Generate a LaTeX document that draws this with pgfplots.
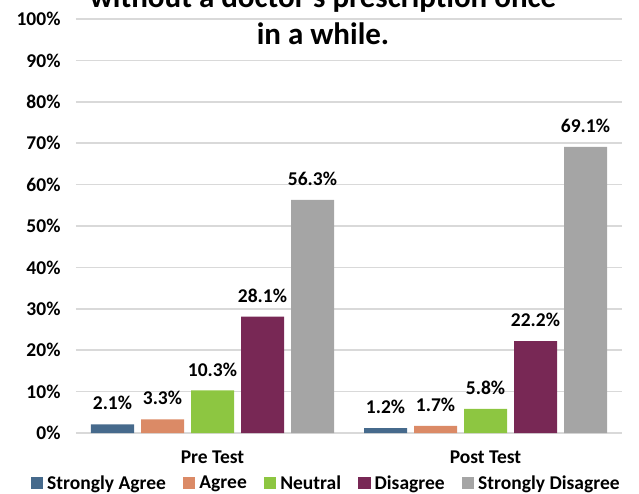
\documentclass[border=0pt]{standalone}
\usepackage{fontspec}
\setmainfont{Carlito}
\usepackage{pgfplots}
\pgfplotsset{compat=1.18}

\definecolor{cSA}{HTML}{466A8C}
\definecolor{cA}{HTML}{DB8A66}
\definecolor{cN}{HTML}{8DC641}
\definecolor{cD}{HTML}{782855}
\definecolor{cSD}{HTML}{A5A5A5}
\definecolor{gridgray}{HTML}{D9D9D9}

\newcommand{\lblfont}{\bfseries\fontsize{19.5}{23}\selectfont}

\begin{document}
\begin{tikzpicture}
\clip (-76pt,-60pt) rectangle (563pt,433pt);
\begin{axis}[
  name=ax, at={(0pt,0pt)}, anchor=south west,
  scale only axis, width=546pt, height=414pt,
  ybar=7pt, bar width=43pt,
  xmin=-0.5, xmax=1.5, ymin=0, ymax=100,
  xtick={0,1}, xticklabels={Pre Test, Post Test},
  ytick={0,10,...,100},
  yticklabel={\pgfmathprintnumber{\tick}\%},
  ymajorgrids, grid style={draw=gridgray, line width=1.5pt},
  axis line style={draw=none},
  major tick length=0pt,
  /pgf/number format/assume math mode=true,
  tick label style={font=\lblfont},
  yticklabel style={xshift=-12pt},
  xticklabel style={yshift=-14pt},
  nodes near coords={\pgfmathprintnumber[fixed,precision=1,fixed zerofill]{\pgfplotspointmeta}\%},
  every node near coord/.append style={font=\lblfont, text=black, anchor=center, yshift=21pt},
  legend columns=-1,
  legend image code/.code={\fill[#1] (0pt,-6.25pt) rectangle (12.5pt,6.25pt);},
  legend style={at={(0.46,-0.1208)}, anchor=center, draw=none, fill=none,
    font=\lblfont, nodes={inner xsep=4pt},
    /tikz/every even column/.append style={column sep=13pt}},
]
\addplot[fill=cSA, draw=none] coordinates {(0,2.1) (1,1.2)};
\addplot[fill=cA, draw=none] coordinates {(0,3.3) (1,1.7)};
\addplot[fill=cN, draw=none] coordinates {(0,10.3) (1,5.8)};
\addplot[fill=cD, draw=none] coordinates {(0,28.1) (1,22.2)};
\addplot[fill=cSD, draw=none] coordinates {(0,56.3) (1,69.1)};
\legend{Strongly Agree, Agree, Neutral, Disagree, Strongly Disagree}
\end{axis}
\node[anchor=base, font=\bfseries\fontsize{31}{37}\selectfont] at (247pt,425pt) {without a doctor's prescription once};
\node[anchor=base, font=\bfseries\fontsize{31}{37}\selectfont] at (247pt,388pt) {in a while.};
\end{tikzpicture}
\end{document}
